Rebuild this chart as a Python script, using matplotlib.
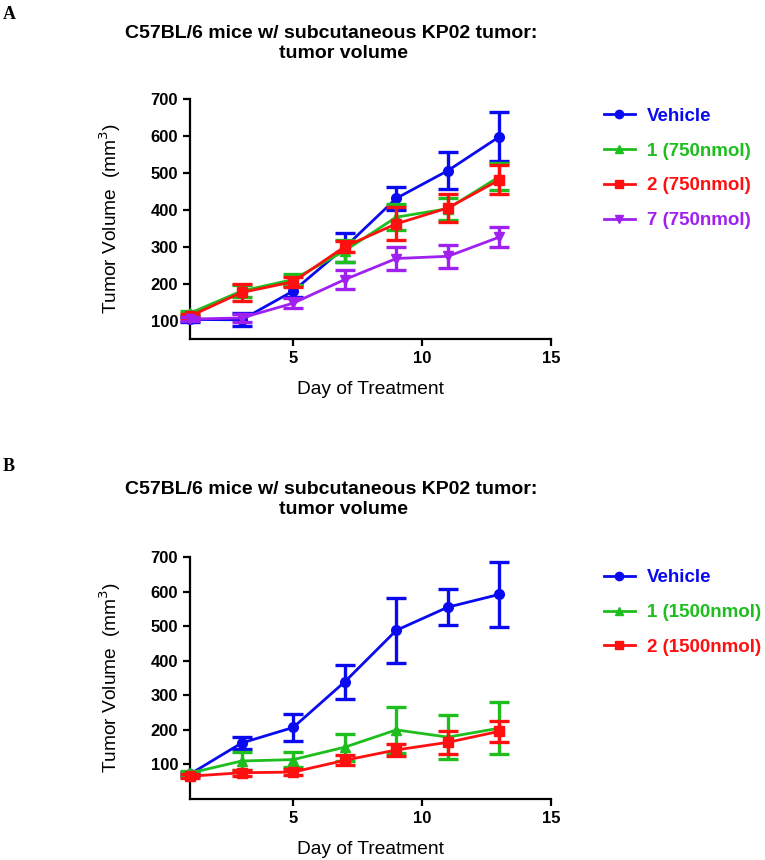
#!/usr/bin/env python3

import matplotlib
matplotlib.use('Agg')
import matplotlib.pyplot as plt
from matplotlib.lines import Line2D

plt.rcParams['font.family'] = ['Liberation Sans', 'DejaVu Sans']

days = [1, 3, 5, 7, 9, 11, 13]

# panel A (750 nmol)
a_labels = ['Vehicle', '1 (750nmol)', '2 (750nmol)', '7 (750nmol)']
a_vehicle = [103, 102, 180, 298, 431, 506, 598]
a_vehicle_err = [6, 18, 15, 39, 32, 50, 67]
a_cmp1 = [120, 180, 211, 289, 380, 403, 490]
a_cmp1_err = [6, 15, 16, 30, 35, 30, 37]
a_cmp2 = [112, 176, 205, 300, 362, 405, 481]
a_cmp2_err = [6, 23, 13, 15, 45, 38, 39]
a_cmp7 = [104, 107, 147, 211, 268, 274, 326]
a_cmp7_err = [5, 10, 14, 25, 30, 31, 26]

# panel B (1500 nmol)
b_labels = ['Vehicle', '1 (1500nmol)', '2 (1500nmol)']
b_vehicle = [72, 162, 207, 339, 488, 555, 592]
b_vehicle_err = [5, 18, 40, 49, 94, 53, 94]
b_cmp1 = [75, 110, 114, 150, 200, 179, 205]
b_cmp1_err = [5, 25, 21, 39, 66, 63, 75]
b_cmp2 = [66, 76, 78, 112, 142, 164, 196]
b_cmp2_err = [5, 8, 8, 14, 17, 33, 30]

colors = ['#0a0af0', '#1ebe1e', '#ff1010', '#a020f0']
markers = ['o', '^', 's', 'v']

title_1 = 'C57BL/6 mice w/ subcutaneous KP02 tumor:'
title_2 = 'tumor volume'


def draw_panel(ax, series, errors, labels, ymin, legend_top):
    handles = []
    for i, (y, e, lab) in enumerate(zip(series, errors, labels)):
        ax.errorbar(days, y, yerr=e, color=colors[i], marker=markers[i],
                    markersize=7, linewidth=2, elinewidth=2.4,
                    capsize=7.5, capthick=2.4, clip_on=False,
                    zorder=3 + i)
        handles.append(Line2D([], [], color=colors[i], marker=markers[i],
                              markersize=6, linewidth=2, label=lab))

    ax.set_xlim(1, 15)
    ax.set_ylim(ymin, 700)
    ax.set_xticks([5, 10, 15])
    ax.set_yticks(range(100, 701, 100))
    for side in ('top', 'right'):
        ax.spines[side].set_visible(False)
    for side in ('left', 'bottom'):
        ax.spines[side].set_linewidth(1.6)
    ax.tick_params(width=1.6, length=5, labelsize=12)
    for t in ax.get_xticklabels() + ax.get_yticklabels():
        t.set_fontweight('bold')

    ax.set_xlabel('Day of Treatment', fontsize=13.8, labelpad=11)
    ax.set_ylabel('Tumor Volume  (mm$^3$)', fontsize=13.8, labelpad=20)

    ax.legend(handles=handles, loc='upper left',
              bbox_to_anchor=(1.1, legend_top),
              frameon=False, handlelength=1.65, handletextpad=0.65,
              labelspacing=0.95, labelcolor='linecolor',
              prop={'weight': 'bold', 'size': 13.5})


fig = plt.figure(figsize=(7.65, 8.6), dpi=100)
ax_a = fig.add_axes([0.2484, 0.6058, 0.4719, 0.2791])
ax_b = fig.add_axes([0.2484, 0.0709, 0.4719, 0.2814])

draw_panel(ax_a, [a_vehicle, a_cmp1, a_cmp2, a_cmp7],
           [a_vehicle_err, a_cmp1_err, a_cmp2_err, a_cmp7_err],
           a_labels, 50, 1.035)
draw_panel(ax_b, [b_vehicle, b_cmp1, b_cmp2],
           [b_vehicle_err, b_cmp1_err, b_cmp2_err],
           b_labels, 0, 1.02)

for y_top in (0.971, 0.441):
    fig.text(0.4327, y_top, title_1, ha='center', va='top', fontsize=14,
             fontweight='bold')
    fig.text(0.449, y_top - 0.0235, title_2, ha='center', va='top',
             fontsize=14, fontweight='bold')

fig.text(0.004, 0.993, 'A', fontsize=13, fontweight='bold',
         family='Liberation Serif', va='top')
fig.text(0.004, 0.4674, 'B', fontsize=13, fontweight='bold',
         family='Liberation Serif', va='top')

fig.savefig('out.png', dpi=100)
